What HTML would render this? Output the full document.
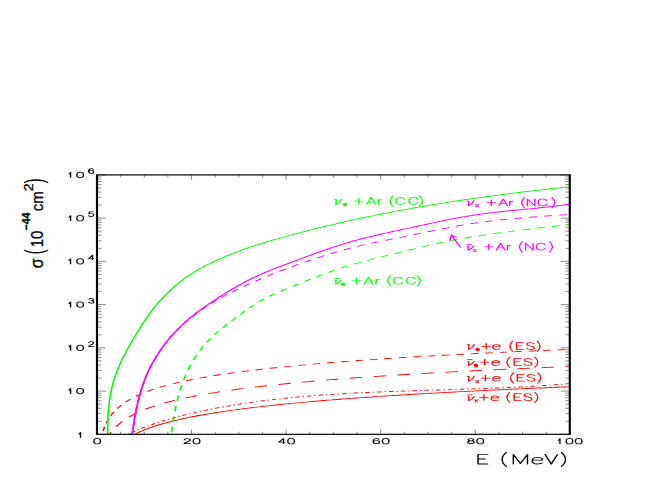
<!DOCTYPE html>
<html><head><meta charset="utf-8"><title>Neutrino cross sections</title>
<style>html,body{margin:0;padding:0;background:#fff}svg{display:block}text{font-family:"Liberation Sans",sans-serif}</style>
</head><body>
<svg width="654" height="491" viewBox="0 0 654 491" role="img" aria-label="Neutrino cross sections on argon and electrons versus energy">
<title>Neutrino cross sections: sigma (10^-44 cm^2) versus E (MeV)</title>
<desc>Curves: nu_e + Ar (CC), anti-nu_e + Ar (CC), nu_x + Ar (NC), anti-nu_x + Ar (NC), nu_e + e (ES), anti-nu_e + e (ES), nu_x + e (ES), anti-nu_x + e (ES). X axis E (MeV) from 0 to 100; Y axis sigma (10^-44 cm^2) from 1 to 10^6, log scale.</desc>
<rect width="654" height="491" fill="#fff"/>
<defs><clipPath id="c"><rect x="97.0" y="318.8" width="472.8" height="472.8"/></clipPath></defs>
<g transform="scale(1,0.54865)">
<path d="M97.00,791.6v-8.9M97.00,318.8v8.9M120.64,791.6v-4.7M120.64,318.8v4.7M144.28,791.6v-4.7M144.28,318.8v4.7M167.92,791.6v-4.7M167.92,318.8v4.7M191.56,791.6v-8.9M191.56,318.8v8.9M215.20,791.6v-4.7M215.20,318.8v4.7M238.84,791.6v-4.7M238.84,318.8v4.7M262.48,791.6v-4.7M262.48,318.8v4.7M286.12,791.6v-8.9M286.12,318.8v8.9M309.76,791.6v-4.7M309.76,318.8v4.7M333.40,791.6v-4.7M333.40,318.8v4.7M357.04,791.6v-4.7M357.04,318.8v4.7M380.68,791.6v-8.9M380.68,318.8v8.9M404.32,791.6v-4.7M404.32,318.8v4.7M427.96,791.6v-4.7M427.96,318.8v4.7M451.60,791.6v-4.7M451.60,318.8v4.7M475.24,791.6v-8.9M475.24,318.8v8.9M498.88,791.6v-4.7M498.88,318.8v4.7M522.52,791.6v-4.7M522.52,318.8v4.7M546.16,791.6v-4.7M546.16,318.8v4.7M569.80,791.6v-8.9M569.80,318.8v8.9M97.0,791.58h8.9M569.8,791.58h-8.9M97.0,767.86h4.4M569.8,767.86h-4.4M97.0,753.99h4.4M569.8,753.99h-4.4M97.0,744.14h4.4M569.8,744.14h-4.4M97.0,736.51h4.4M569.8,736.51h-4.4M97.0,730.27h4.4M569.8,730.27h-4.4M97.0,724.99h4.4M569.8,724.99h-4.4M97.0,720.42h4.4M569.8,720.42h-4.4M97.0,716.39h4.4M569.8,716.39h-4.4M97.0,712.78h8.9M569.8,712.78h-8.9M97.0,689.06h4.4M569.8,689.06h-4.4M97.0,675.19h4.4M569.8,675.19h-4.4M97.0,665.34h4.4M569.8,665.34h-4.4M97.0,657.71h4.4M569.8,657.71h-4.4M97.0,651.47h4.4M569.8,651.47h-4.4M97.0,646.19h4.4M569.8,646.19h-4.4M97.0,641.62h4.4M569.8,641.62h-4.4M97.0,637.59h4.4M569.8,637.59h-4.4M97.0,633.98h8.9M569.8,633.98h-8.9M97.0,610.26h4.4M569.8,610.26h-4.4M97.0,596.39h4.4M569.8,596.39h-4.4M97.0,586.54h4.4M569.8,586.54h-4.4M97.0,578.91h4.4M569.8,578.91h-4.4M97.0,572.67h4.4M569.8,572.67h-4.4M97.0,567.39h4.4M569.8,567.39h-4.4M97.0,562.82h4.4M569.8,562.82h-4.4M97.0,558.79h4.4M569.8,558.79h-4.4M97.0,555.18h8.9M569.8,555.18h-8.9M97.0,531.46h4.4M569.8,531.46h-4.4M97.0,517.59h4.4M569.8,517.59h-4.4M97.0,507.74h4.4M569.8,507.74h-4.4M97.0,500.11h4.4M569.8,500.11h-4.4M97.0,493.87h4.4M569.8,493.87h-4.4M97.0,488.59h4.4M569.8,488.59h-4.4M97.0,484.02h4.4M569.8,484.02h-4.4M97.0,479.99h4.4M569.8,479.99h-4.4M97.0,476.38h8.9M569.8,476.38h-8.9M97.0,452.66h4.4M569.8,452.66h-4.4M97.0,438.79h4.4M569.8,438.79h-4.4M97.0,428.94h4.4M569.8,428.94h-4.4M97.0,421.31h4.4M569.8,421.31h-4.4M97.0,415.07h4.4M569.8,415.07h-4.4M97.0,409.79h4.4M569.8,409.79h-4.4M97.0,405.22h4.4M569.8,405.22h-4.4M97.0,401.19h4.4M569.8,401.19h-4.4M97.0,397.58h8.9M569.8,397.58h-8.9M97.0,373.86h4.4M569.8,373.86h-4.4M97.0,359.99h4.4M569.8,359.99h-4.4M97.0,350.14h4.4M569.8,350.14h-4.4M97.0,342.51h4.4M569.8,342.51h-4.4M97.0,336.27h4.4M569.8,336.27h-4.4M97.0,330.99h4.4M569.8,330.99h-4.4M97.0,326.42h4.4M569.8,326.42h-4.4M97.0,322.39h4.4M569.8,322.39h-4.4M97.0,318.78h8.9M569.8,318.78h-8.9" stroke="#000" stroke-width="0.6" fill="none"/>
<g clip-path="url(#c)" fill="none" stroke-linejoin="round">
<path d="M103.1,785.6 L103.2,785.1 L103.7,782.3 L104.3,779.7 L104.6,778.2 M106.3,771.5 L106.4,770.9 L106.9,769.0 L107.5,767.2 L108.0,765.5 L108.4,764.2 M110.8,757.7 L111.2,756.8 L111.7,755.5 L112.3,754.3 L112.8,753.1 L113.3,752.0 L113.9,750.9 L113.9,750.8 M117.2,744.7 L117.6,744.1 L118.1,743.2 L118.7,742.3 L119.2,741.5 L119.7,740.7 L120.3,739.9 L120.8,739.1 L121.3,738.4 L121.4,738.3 M125.6,732.9 L125.6,732.8 L126.1,732.2 L126.7,731.6 L127.2,731.0 L127.7,730.4 L128.3,729.8 L128.8,729.2 L129.3,728.6 L129.9,728.1 L130.4,727.5 L130.7,727.3 M135.7,722.5 L135.7,722.5 L136.3,722.0 L136.8,721.5 L137.3,721.1 L137.9,720.6 L138.4,720.2 L138.9,719.7 L139.5,719.3 L140.0,718.9 L140.5,718.5 L141.1,718.0 L141.5,717.7 M147.1,713.6 L149.6,712.0 L152.3,710.3 L153.5,709.5 M159.5,706.1 L160.3,705.6 L163.0,704.2 L165.7,702.9 L166.2,702.6 M172.5,699.6 L173.7,699.1 L176.4,697.9 L179.1,696.8 L179.5,696.6 M185.9,694.0 L187.1,693.6 L189.8,692.6 L192.5,691.6 L193.0,691.4 M199.5,689.2 L200.5,688.8 L203.2,688.0 L205.8,687.1 L206.7,686.8 M213.3,684.8 L213.9,684.7 L216.5,683.9 L219.2,683.1 L220.7,682.7 M227.3,680.9 L229.9,680.3 L232.6,679.6 L234.7,679.1 M241.4,677.4 L243.3,677.0 L246.0,676.4 L248.7,675.8 L248.8,675.7 M255.5,674.2 L256.7,674.0 L259.4,673.4 L262.0,672.9 L263.0,672.7 M269.7,671.3 L270.1,671.2 L272.7,670.7 L275.4,670.2 L277.2,669.9 M284.0,668.6 L286.1,668.2 L288.8,667.7 L291.5,667.2 M298.3,666.1 L299.5,665.9 L302.2,665.4 L304.9,665.0 L305.8,664.8 M312.6,663.7 L312.9,663.7 L315.6,663.2 L318.2,662.8 L320.1,662.5 M326.9,661.5 L328.9,661.2 L331.6,660.8 L334.3,660.4 L334.4,660.4 M341.2,659.4 L342.3,659.3 L345.0,658.9 L347.7,658.6 L348.8,658.4 M355.6,657.5 L355.7,657.5 L358.4,657.1 L361.1,656.8 L363.1,656.5 M370.0,655.6 L371.8,655.4 L374.4,655.1 L377.1,654.8 L377.5,654.7 M384.4,653.9 L385.1,653.8 L387.8,653.5 L390.5,653.2 L391.9,653.0 M398.8,652.2 L401.2,651.9 L403.9,651.6 L406.3,651.4 M413.2,650.6 L414.6,650.5 L417.3,650.2 L419.9,649.9 L420.8,649.8 M427.6,649.1 L428.0,649.0 L430.6,648.8 L433.3,648.5 L435.2,648.3 M442.0,647.6 L444.0,647.4 L446.7,647.2 L449.4,646.9 L449.6,646.9 M456.5,646.2 L457.4,646.1 L460.1,645.9 L462.8,645.6 L464.0,645.5 M470.9,644.9 L473.5,644.6 L476.1,644.4 L478.5,644.2 M485.4,643.6 L486.8,643.4 L489.5,643.2 L492.2,643.0 L492.9,642.9 M499.8,642.3 L500.2,642.3 L502.9,642.1 L505.6,641.8 L507.4,641.7 M514.3,641.1 L516.3,640.9 L519.0,640.7 L521.6,640.5 L521.8,640.5 M528.7,639.9 L529.7,639.9 L532.3,639.7 L535.0,639.5 L536.3,639.4 M543.2,638.8 L545.7,638.6 L548.4,638.4 L550.7,638.2 M557.6,637.7 L559.1,637.6 L561.8,637.4 L564.4,637.2 L565.2,637.2" stroke="#f00" stroke-width="1.60"/>
<path d="M109.8,791.6 L110.2,790.4 L110.7,789.3 L111.1,788.2 L111.2,788.0 M116.0,778.0 L116.3,777.4 L116.8,776.7 L117.2,775.9 L117.6,775.2 L118.1,774.5 L118.5,773.8 L118.9,773.1 L119.4,772.4 L119.8,771.7 L120.3,771.1 L120.7,770.4 L121.1,769.8 L121.6,769.2 L122.0,768.6 L122.2,768.3 M128.9,760.3 L129.0,760.2 L129.4,759.7 L129.9,759.3 L130.3,758.8 L130.7,758.4 L131.2,757.9 L131.6,757.5 L132.1,757.1 L132.5,756.6 L132.9,756.2 L133.4,755.8 L133.8,755.4 L134.2,755.0 L134.7,754.6 L135.1,754.2 L135.5,753.8 L136.0,753.4 L136.4,753.0 L136.9,752.7 L137.0,752.5 M145.3,746.1 L147.0,744.9 L149.6,743.1 L152.3,741.4 L154.8,740.0 M164.3,734.8 L165.7,734.0 L168.4,732.7 L171.0,731.5 L173.7,730.2 L175.1,729.7 M185.5,725.4 L187.1,724.7 L189.8,723.7 L192.5,722.8 L195.1,721.8 L197.1,721.1 M208.1,717.6 L208.5,717.4 L211.2,716.6 L213.9,715.8 L216.5,715.1 L219.2,714.3 L220.1,714.1 M231.3,711.1 L232.6,710.8 L235.3,710.1 L237.9,709.4 L240.6,708.8 L243.3,708.2 L243.4,708.1 M254.8,705.6 L256.7,705.2 L259.4,704.6 L262.0,704.0 L264.7,703.5 L267.0,703.0 M278.4,700.8 L280.8,700.4 L283.4,699.9 L286.1,699.4 L288.8,698.9 L290.7,698.6 M302.1,696.6 L302.2,696.6 L304.9,696.1 L307.5,695.7 L310.2,695.3 L312.9,694.8 L314.5,694.6 M325.9,692.8 L326.3,692.8 L328.9,692.4 L331.6,692.0 L334.3,691.6 L337.0,691.2 L338.3,691.0 M349.8,689.4 L350.3,689.4 L353.0,689.0 L355.7,688.6 L358.4,688.3 L361.1,687.9 L362.2,687.8 M373.7,686.3 L374.4,686.3 L377.1,685.9 L379.8,685.6 L382.5,685.3 L385.1,685.0 L386.1,684.8 M397.6,683.5 L398.5,683.4 L401.2,683.1 L403.9,682.8 L406.6,682.5 L409.2,682.2 L410.0,682.1 M421.6,680.9 L422.6,680.8 L425.3,680.5 L428.0,680.2 L430.6,679.9 L433.3,679.7 L434.0,679.6 M445.5,678.4 L446.7,678.3 L449.4,678.1 L452.0,677.8 L454.7,677.6 L457.4,677.3 L458.0,677.2 M469.5,676.2 L470.8,676.1 L473.5,675.8 L476.1,675.6 L478.8,675.3 L481.5,675.1 L482.0,675.0 M493.5,674.0 L494.9,673.9 L497.5,673.7 L500.2,673.5 L502.9,673.2 L505.6,673.0 L506.0,673.0 M517.6,672.0 L519.0,671.9 L521.6,671.7 L524.3,671.5 L527.0,671.3 L529.7,671.0 L530.0,671.0 M541.6,670.1 L543.0,670.0 L545.7,669.8 L548.4,669.6 L551.1,669.4 L553.7,669.2 L554.0,669.2 M565.6,668.3 L567.1,668.2 L569.8,668.0" stroke="#f00" stroke-width="1.60"/>
<path d="M128.6,790.6 L129.2,790.2 L129.7,789.8 M132.0,787.9 L132.5,787.5 L133.3,786.9 L134.2,786.2 L135.0,785.6 L135.5,785.2 M137.9,783.4 L138.4,783.0 L139.0,782.6 M141.5,780.8 L141.7,780.6 L142.6,780.0 L143.4,779.4 L144.3,778.8 L145.1,778.3 M147.6,776.6 L147.6,776.6 L148.5,776.0 L148.7,775.8 M151.3,774.2 L151.9,773.8 L152.7,773.3 L153.6,772.8 L154.4,772.2 L155.0,771.9 M157.6,770.3 L157.8,770.2 L158.7,769.7 L158.8,769.6 M161.4,768.1 L162.1,767.7 L162.9,767.2 L163.8,766.8 L164.6,766.3 L165.2,766.0 M167.9,764.6 L168.1,764.4 L168.9,764.0 L169.1,763.9 M171.8,762.5 L172.3,762.2 L173.2,761.8 L174.0,761.4 L174.9,760.9 L175.7,760.6 M178.4,759.2 L179.2,758.9 L179.7,758.6 M182.4,757.4 L182.6,757.3 L183.5,756.9 L184.4,756.5 L185.2,756.1 L186.1,755.7 L186.4,755.6 M189.1,754.4 L189.5,754.2 L190.4,753.8 L190.4,753.8 M193.2,752.7 L193.9,752.4 L194.7,752.0 L195.6,751.7 L196.5,751.3 L197.3,751.0 M200.0,749.9 L200.8,749.6 L201.3,749.4 M204.1,748.3 L204.3,748.2 L205.1,747.9 L206.0,747.6 L206.9,747.3 L207.8,746.9 L208.3,746.8 M211.1,745.7 L211.2,745.7 L212.1,745.4 L212.4,745.3 M215.2,744.3 L215.6,744.1 L216.5,743.8 L217.4,743.5 L218.2,743.2 L219.1,742.9 L219.4,742.8 M222.2,741.9 L222.6,741.8 L223.5,741.5 L223.6,741.4 M226.4,740.5 L227.0,740.3 L227.9,740.1 L228.8,739.8 L229.6,739.5 L230.5,739.3 L230.6,739.2 M233.5,738.3 L234.0,738.2 L234.8,737.9 M237.7,737.1 L238.4,736.9 L239.3,736.6 L240.2,736.4 L241.1,736.1 L242.0,735.9 L242.0,735.9 M244.8,735.1 L245.5,734.9 L246.2,734.7 M249.1,734.0 L249.9,733.8 L250.8,733.5 L251.7,733.3 L252.6,733.1 L253.4,732.9 M256.3,732.1 L257.0,732.0 L257.6,731.8 M260.5,731.1 L261.4,730.9 L262.3,730.7 L263.2,730.5 L264.1,730.3 L264.8,730.1 M267.8,729.5 L268.5,729.3 L269.1,729.2 M272.1,728.5 L272.1,728.5 L273.0,728.3 L273.9,728.1 L274.8,728.0 L275.6,727.8 L276.4,727.6 M279.3,727.0 L280.1,726.9 L280.7,726.8 M283.6,726.2 L283.7,726.2 L284.6,726.0 L285.5,725.8 L286.4,725.7 L287.2,725.5 L288.0,725.4 M290.9,724.8 L291.7,724.7 L292.3,724.6 M295.2,724.1 L295.3,724.1 L296.2,723.9 L297.1,723.8 L298.0,723.6 L298.9,723.5 L299.6,723.4 M302.5,722.9 L303.4,722.8 L303.9,722.7 M306.9,722.2 L306.9,722.2 L307.8,722.1 L308.7,721.9 L309.6,721.8 L310.5,721.7 L311.2,721.6 M314.2,721.1 L315.0,721.0 L315.6,720.9 M318.6,720.5 L318.6,720.5 L319.5,720.4 L320.4,720.3 L321.3,720.2 L322.2,720.0 L322.9,720.0 M325.9,719.6 L326.7,719.5 L327.3,719.4 M330.3,719.0 L330.3,719.0 L331.2,718.9 L332.1,718.8 L333.0,718.7 L333.9,718.6 L334.6,718.5 M337.6,718.2 L338.4,718.1 L339.0,718.0 M342.0,717.7 L342.0,717.7 L342.9,717.6 L343.8,717.5 L344.7,717.4 L345.6,717.3 L346.4,717.2 M349.4,716.9 L350.1,716.9 L350.8,716.8 M353.7,716.5 L353.8,716.5 L354.7,716.4 L355.6,716.4 L356.5,716.3 L357.4,716.2 L358.1,716.1 M361.1,715.9 L361.9,715.8 L362.5,715.7 M365.5,715.5 L365.5,715.5 L366.4,715.4 L367.3,715.3 L368.2,715.2 L369.1,715.2 L369.9,715.1 M372.9,714.9 L373.6,714.8 L374.3,714.8 M377.3,714.5 L378.1,714.5 L379.0,714.4 L380.0,714.3 L380.9,714.3 L381.6,714.2 M384.6,714.0 L385.4,713.9 L386.0,713.9 M389.0,713.7 L389.9,713.6 L390.8,713.6 L391.7,713.5 L392.6,713.5 L393.4,713.4 M396.4,713.2 L397.1,713.2 L397.8,713.1 M400.8,712.9 L401.7,712.9 L402.6,712.8 L403.5,712.8 L404.4,712.7 L405.2,712.7 M408.2,712.5 L408.9,712.4 L409.6,712.4 M412.6,712.2 L413.4,712.2 L414.3,712.1 L415.2,712.1 L416.1,712.0 L417.0,712.0 M420.0,711.8 L420.6,711.8 L421.4,711.7 M424.4,711.5 L425.2,711.5 L426.1,711.5 L427.0,711.4 L427.9,711.4 L428.8,711.3 M431.7,711.1 L432.4,711.1 L433.1,711.1 M436.1,710.9 L436.9,710.9 L437.8,710.8 L438.7,710.8 L439.6,710.7 L440.5,710.7 L440.5,710.7 M443.5,710.5 L444.1,710.5 L444.9,710.4 M447.9,710.3 L448.6,710.2 L449.5,710.2 L450.4,710.1 L451.3,710.1 L452.2,710.0 L452.3,710.0 M455.3,709.8 L455.8,709.8 L456.7,709.8 M459.7,709.6 L460.3,709.6 L461.2,709.5 L462.1,709.5 L463.0,709.4 L463.9,709.3 L464.1,709.3 M467.1,709.2 L467.5,709.1 L468.4,709.1 L468.5,709.1 M471.5,708.9 L472.0,708.9 L472.9,708.8 L473.8,708.8 L474.7,708.7 L475.6,708.6 L475.9,708.6 M478.9,708.4 L479.2,708.4 L480.1,708.4 L480.3,708.3 M483.3,708.2 L483.7,708.1 L484.6,708.1 L485.5,708.0 L486.4,707.9 L487.3,707.9 L487.7,707.9 M490.6,707.7 L490.9,707.6 L491.8,707.6 L492.0,707.6 M495.0,707.3 L495.4,707.3 L496.2,707.2 L497.1,707.2 L498.0,707.1 L498.9,707.0 L499.4,707.0 M502.4,706.8 L502.5,706.8 L503.4,706.7 L503.8,706.7 M506.8,706.4 L507.0,706.4 L507.9,706.3 L508.8,706.3 L509.7,706.2 L510.5,706.1 L511.2,706.1 M514.2,705.8 L515.0,705.7 L515.6,705.7 M518.6,705.4 L518.6,705.4 L519.5,705.3 L520.3,705.2 L521.2,705.2 L522.1,705.1 L522.9,705.0 M525.9,704.7 L526.6,704.6 L527.3,704.6 M530.3,704.3 L531.0,704.2 L531.9,704.1 L532.8,704.0 L533.7,703.9 L534.6,703.8 L534.7,703.8 M537.7,703.5 L538.1,703.4 L539.0,703.3 L539.0,703.3 M542.0,703.0 L542.5,702.9 L543.4,702.8 L544.3,702.7 L545.2,702.6 L546.1,702.5 L546.4,702.4 M549.4,702.1 L549.6,702.0 L550.5,701.9 L550.8,701.9 M553.7,701.5 L554.0,701.5 L554.9,701.3 L555.8,701.2 L556.6,701.1 L557.5,701.0 L558.1,700.9 M561.1,700.5 L561.9,700.4 L562.4,700.3 M565.4,699.8 L566.3,699.7 L567.2,699.6 L568.0,699.4 L568.9,699.3 L569.8,699.2" stroke="#f00" stroke-width="1.60"/>
<path d="M134.5,791.6 L134.6,791.5 L134.8,791.4 L134.9,791.2 L135.0,791.1 L135.1,791.0 L135.3,790.9 L135.4,790.8 L135.5,790.7 L135.6,790.6 L135.8,790.5 L135.9,790.4 L136.0,790.3 L136.1,790.2 L136.3,790.0 L136.4,789.9 L136.5,789.8 L136.6,789.7 L136.7,789.6 L136.9,789.5 L137.0,789.4 L137.1,789.3 L137.2,789.2 L137.4,789.1 L137.5,789.0 L137.6,788.9 L137.7,788.8 L137.9,788.7 L138.0,788.6 L138.1,788.5 L138.2,788.4 L138.4,788.3 L138.5,788.2 L138.6,788.1 L138.7,788.0 L138.8,787.9 L139.0,787.8 L139.1,787.7 L139.2,787.6 L139.3,787.5 L139.5,787.4 L139.6,787.3 L139.7,787.2 L139.8,787.1 L140.0,787.0 L140.1,786.9 L140.2,786.8 L140.3,786.7 L140.5,786.6 L140.6,786.5 L140.7,786.4 L140.8,786.3 L140.9,786.2 L141.1,786.1 L141.2,786.0 L141.3,785.9 L141.4,785.8 L141.6,785.7 L141.7,785.6 L141.8,785.5 L141.9,785.4 L142.1,785.3 L142.2,785.2 L142.3,785.1 L142.4,785.0 L142.6,785.0 L142.7,784.9 L142.8,784.8 L142.9,784.7 L143.0,784.6 L143.2,784.5 L143.3,784.4 L143.4,784.3 L143.5,784.2 L143.7,784.1 L143.8,784.0 L143.9,783.9 L144.0,783.9 L144.2,783.8 L144.3,783.7 L147.0,781.8 L149.6,780.0 L152.3,778.3 L155.0,776.7 L157.7,775.1 L160.3,773.7 L163.0,772.3 L165.7,770.9 L168.4,769.6 L171.0,768.3 L173.7,767.1 L176.4,765.9 L179.1,764.8 L181.7,763.7 L184.4,762.6 L187.1,761.6 L189.8,760.6 L192.5,759.6 L195.1,758.7 L197.8,757.8 L200.5,756.9 L203.2,756.0 L205.8,755.1 L208.5,754.3 L211.2,753.5 L213.9,752.7 L216.5,751.9 L219.2,751.2 L221.9,750.4 L224.6,749.7 L227.2,749.0 L229.9,748.3 L232.6,747.6 L235.3,747.0 L237.9,746.3 L240.6,745.7 L243.3,745.0 L246.0,744.4 L248.7,743.8 L251.3,743.2 L254.0,742.6 L256.7,742.0 L259.4,741.5 L262.0,740.9 L264.7,740.3 L267.4,739.8 L270.1,739.3 L272.7,738.7 L275.4,738.2 L278.1,737.7 L280.8,737.2 L283.4,736.7 L286.1,736.2 L288.8,735.8 L291.5,735.3 L294.1,734.8 L296.8,734.3 L299.5,733.9 L302.2,733.4 L304.9,733.0 L307.5,732.6 L310.2,732.1 L312.9,731.7 L315.6,731.3 L318.2,730.9 L320.9,730.5 L323.6,730.0 L326.3,729.6 L328.9,729.2 L331.6,728.9 L334.3,728.5 L337.0,728.1 L339.6,727.7 L342.3,727.3 L345.0,727.0 L347.7,726.6 L350.3,726.2 L353.0,725.9 L355.7,725.5 L358.4,725.2 L361.1,724.8 L363.7,724.5 L366.4,724.1 L369.1,723.8 L371.8,723.5 L374.4,723.1 L377.1,722.8 L379.8,722.5 L382.5,722.1 L385.1,721.8 L387.8,721.5 L390.5,721.2 L393.2,720.9 L395.8,720.6 L398.5,720.3 L401.2,720.0 L403.9,719.7 L406.6,719.4 L409.2,719.1 L411.9,718.8 L414.6,718.5 L417.3,718.2 L419.9,717.9 L422.6,717.6 L425.3,717.4 L428.0,717.1 L430.6,716.8 L433.3,716.5 L436.0,716.3 L438.7,716.0 L441.3,715.7 L444.0,715.5 L446.7,715.2 L449.4,714.9 L452.0,714.7 L454.7,714.4 L457.4,714.2 L460.1,713.9 L462.8,713.7 L465.4,713.4 L468.1,713.2 L470.8,712.9 L473.5,712.7 L476.1,712.4 L478.8,712.2 L481.5,712.0 L484.2,711.7 L486.8,711.5 L489.5,711.2 L492.2,711.0 L494.9,710.8 L497.5,710.6 L500.2,710.3 L502.9,710.1 L505.6,709.9 L508.2,709.6 L510.9,709.4 L513.6,709.2 L516.3,709.0 L519.0,708.8 L521.6,708.6 L524.3,708.3 L527.0,708.1 L529.7,707.9 L532.3,707.7 L535.0,707.5 L537.7,707.3 L540.4,707.1 L543.0,706.9 L545.7,706.7 L548.4,706.5 L551.1,706.3 L553.7,706.1 L556.4,705.9 L559.1,705.7 L561.8,705.5 L564.4,705.3 L567.1,705.1 L569.8,704.9" stroke="#f00" stroke-width="1.60"/>
<path d="M171.6,788.1 L171.6,788.0 L171.7,786.3 L171.8,784.5 L172.0,782.7 L172.1,781.0 L172.2,779.2 L172.3,778.1 M173.1,768.9 L173.1,768.6 L173.3,766.9 L173.4,765.1 L173.6,763.3 L173.8,761.6 L173.9,759.8 L174.0,758.9 M174.9,749.8 L175.0,749.3 L175.2,747.5 L175.3,745.8 L175.5,744.0 L175.7,742.3 L175.9,740.6 L176.0,739.7 M177.2,730.7 L177.3,730.1 L177.5,728.4 L177.7,726.7 L178.0,724.9 L178.2,723.2 L178.5,721.5 L178.6,720.7 M180.0,711.7 L180.1,711.2 L180.4,709.4 L180.7,707.7 L181.0,706.0 L181.4,704.3 L181.7,702.6 L181.8,701.8 M183.6,692.9 L183.7,692.5 L184.1,690.9 L184.4,689.2 L184.8,687.5 L185.2,685.9 L185.6,684.2 L185.8,683.1 M188.0,674.4 L188.5,672.8 L188.9,671.2 L189.3,669.6 L189.8,668.1 L190.2,666.5 L190.7,664.9 L190.7,664.8 M193.4,656.2 L193.6,655.6 L194.1,654.1 L194.6,652.6 L195.2,651.1 L195.7,649.6 L196.2,648.1 L196.6,647.1 M199.7,639.2 L200.2,637.9 L200.8,636.5 L201.4,635.1 L202.0,633.8 L202.6,632.4 L203.2,631.0 L203.2,630.9 M206.6,623.9 L207.1,623.1 L207.7,621.8 L208.4,620.5 L209.1,619.2 L209.8,618.0 L210.5,616.7 L210.6,616.6 M214.3,610.2 L214.8,609.5 L215.5,608.3 L216.2,607.2 L217.0,606.0 L217.7,604.9 L218.5,603.7 L218.6,603.5 M222.7,597.5 L223.0,597.0 L223.8,595.9 L224.6,594.8 L225.4,593.7 L226.1,592.6 L226.9,591.5 L227.2,591.0 M231.4,585.3 L231.6,585.1 L232.4,584.0 L233.2,582.9 L233.9,581.9 L234.7,580.8 L235.5,579.7 L236.1,578.9 M240.3,573.2 L241.1,572.3 L241.8,571.2 L242.6,570.1 L243.4,569.1 L244.2,568.0 L245.0,567.0 L245.1,567.0 M249.4,561.4 L249.9,560.8 L250.7,559.8 L251.5,558.7 L252.3,557.8 L253.1,556.8 L254.0,555.8 L254.3,555.4 M258.9,550.2 L258.9,550.1 L259.8,549.2 L260.6,548.3 L261.5,547.4 L262.3,546.6 L263.2,545.7 L264.0,544.9 L264.2,544.7 M269.3,540.1 L270.1,539.3 L271.0,538.5 L271.9,537.8 L272.8,537.1 L273.7,536.3 L274.6,535.6 L275.1,535.1 M280.6,530.8 L280.8,530.7 L281.7,530.0 L282.6,529.3 L283.5,528.6 L284.4,527.9 L285.3,527.2 L286.2,526.6 L286.8,526.2 M292.4,522.0 L292.6,521.8 L293.5,521.1 L294.4,520.5 L295.3,519.8 L296.2,519.1 L297.1,518.4 L298.0,517.8 L298.6,517.4 M304.2,513.2 L304.4,513.1 L305.3,512.4 L306.2,511.8 L307.2,511.1 L308.1,510.5 L309.0,509.8 L309.9,509.2 L310.5,508.7 M316.2,504.7 L316.3,504.6 L317.3,504.0 L318.2,503.4 L319.1,502.7 L320.0,502.1 L320.9,501.5 L321.9,500.9 L322.6,500.3 M328.5,496.5 L329.3,496.0 L330.2,495.4 L331.1,494.8 L332.0,494.2 L333.0,493.6 L333.9,493.0 L334.8,492.5 L335.1,492.3 M341.1,488.6 L341.3,488.5 L342.3,487.9 L343.2,487.4 L344.1,486.9 L345.1,486.3 L346.0,485.8 L346.9,485.3 L347.8,484.7 M354.1,481.4 L354.4,481.2 L355.3,480.7 L356.3,480.2 L357.2,479.7 L358.1,479.2 L359.1,478.8 L360.0,478.3 L361.0,477.8 L361.0,477.8 M367.4,474.7 L367.5,474.6 L368.5,474.2 L369.4,473.7 L370.4,473.3 L371.3,472.9 L372.3,472.4 L373.2,472.0 L374.1,471.6 L374.5,471.4 M381.0,468.4 L381.7,468.1 L382.6,467.7 L383.6,467.3 L384.5,466.9 L385.5,466.4 L386.4,466.0 L387.4,465.6 L388.2,465.2 M394.7,462.3 L395.0,462.2 L395.9,461.8 L396.9,461.3 L397.8,460.9 L398.8,460.5 L399.7,460.1 L400.7,459.6 L401.6,459.2 L401.9,459.1 M408.4,456.1 L409.3,455.7 L410.2,455.3 L411.2,454.9 L412.1,454.4 L413.1,454.0 L414.0,453.6 L415.0,453.2 L415.5,452.9 M422.1,450.0 L422.6,449.8 L423.6,449.4 L424.6,449.0 L425.5,448.6 L426.5,448.2 L427.4,447.8 L428.4,447.4 L429.3,447.0 M436.0,444.3 L436.1,444.3 L437.0,443.9 L438.0,443.5 L439.0,443.2 L439.9,442.8 L440.9,442.4 L441.8,442.1 L442.8,441.7 L443.3,441.5 M450.1,439.1 L450.5,438.9 L451.5,438.6 L452.4,438.2 L453.4,437.9 L454.4,437.6 L455.3,437.2 L456.3,436.9 L457.3,436.6 L457.5,436.5 M464.3,434.3 L465.0,434.0 L465.9,433.7 L466.9,433.4 L467.9,433.1 L468.8,432.8 L469.8,432.5 L470.8,432.2 L471.7,431.9 L471.9,431.9 M478.7,429.9 L479.5,429.7 L480.5,429.4 L481.4,429.1 L482.4,428.9 L483.4,428.6 L484.3,428.3 L485.3,428.1 L486.3,427.8 L486.3,427.8 M493.3,426.0 L494.0,425.8 L495.0,425.5 L496.0,425.3 L496.9,425.0 L497.9,424.8 L498.9,424.6 L499.8,424.3 L500.8,424.1 L500.9,424.1 M507.9,422.4 L508.6,422.3 L509.6,422.1 L510.5,421.8 L511.5,421.6 L512.5,421.4 L513.4,421.2 L514.4,421.0 L515.4,420.8 L515.6,420.7 M522.6,419.2 L523.2,419.1 L524.1,418.9 L525.1,418.7 L526.1,418.5 L527.0,418.3 L528.0,418.1 L529.0,417.9 L530.0,417.7 L530.3,417.6 M537.3,416.1 L537.7,416.0 L538.7,415.8 L539.7,415.6 L540.6,415.4 L541.6,415.2 L542.6,415.0 L543.6,414.8 L544.5,414.5 L545.0,414.4 M552.0,412.9 L552.3,412.8 L553.3,412.6 L554.3,412.4 L555.2,412.2 L556.2,411.9 L557.2,411.7 L558.1,411.5 L559.1,411.3 L559.7,411.1 M566.7,409.4 L566.9,409.4 L567.9,409.1 L568.8,408.9 L569.8,408.6" stroke="#0f0" stroke-width="1.60"/>
<path d="M132.2,791.5 L132.3,789.7 L132.5,787.8 L132.6,785.9 L132.8,783.9 L132.8,783.6 M133.4,776.5 L133.4,776.3 L133.6,774.3 L133.8,772.4 L133.9,770.5 L134.1,768.6 M134.7,761.5 L134.8,760.9 L135.0,758.9 L135.2,757.0 L135.4,755.1 L135.5,753.7 M136.3,746.6 L136.4,745.4 L136.6,743.5 L136.9,741.6 L137.1,739.7 L137.2,738.7 M138.1,731.6 L138.3,730.1 L138.6,728.2 L138.9,726.3 L139.1,724.4 L139.2,723.8 M140.3,716.7 L140.6,714.9 L140.9,713.0 L141.2,711.1 L141.5,709.2 L141.6,708.9 M142.8,701.9 L142.9,701.8 L143.2,699.9 L143.6,698.1 L144.0,696.2 L144.3,694.4 L144.4,694.1 M145.9,687.2 L145.9,687.1 L146.3,685.3 L146.7,683.5 L147.2,681.7 L147.6,679.9 L147.7,679.5 M149.5,672.5 L149.9,671.0 L150.3,670.1 L150.7,668.4 L151.2,666.7 L151.7,665.0 M153.8,658.1 L153.8,658.1 L154.3,656.4 L154.9,654.7 L155.4,653.0 L156.0,651.3 L156.2,650.6 M158.6,643.9 L158.8,643.1 L159.4,641.5 L160.0,639.9 L160.6,638.3 L161.2,636.7 L161.3,636.5 M163.9,629.8 L164.4,628.8 L165.0,627.3 L165.7,625.7 L166.3,624.2 L167.0,622.7 L167.0,622.5 M170.0,616.0 L170.4,615.2 L171.1,613.8 L171.8,612.3 L172.5,610.8 L173.2,609.4 L173.4,608.9 M176.7,602.6 L176.8,602.4 L177.6,601.0 L178.3,599.6 L179.1,598.3 L179.8,596.9 L180.6,595.7 M184.2,589.5 L184.5,589.0 L185.3,587.7 L186.1,586.5 L186.9,585.2 L187.7,584.0 L188.4,582.8 M192.4,576.9 L192.6,576.7 L193.5,575.5 L194.3,574.3 L195.2,573.1 L196.0,572.0 L196.8,570.8 L197.1,570.5 M201.4,564.8 L202.0,564.0 L202.9,562.9 L203.8,561.9 L204.7,560.8 L205.6,559.7 L206.4,558.7 M211.1,553.3 L211.8,552.4 L212.8,551.4 L213.7,550.4 L214.6,549.4 L215.5,548.4 L216.4,547.5 M221.4,542.4 L222.0,541.8 L222.9,540.8 L223.9,539.9 L224.8,539.0 L225.8,538.2 L226.7,537.3 L227.1,536.9 M232.4,532.1 L232.4,532.1 L233.4,531.2 L234.3,530.3 L235.3,529.4 L236.3,528.6 L237.2,527.7 L238.2,526.8 L238.2,526.8 M243.6,522.1 L244.0,521.8 L245.0,521.0 L245.9,520.2 L246.9,519.3 L247.9,518.5 L248.9,517.7 L249.7,517.0 M255.3,512.5 L255.7,512.2 L256.7,511.4 L257.7,510.6 L258.6,509.9 L259.6,509.1 L260.6,508.3 L261.5,507.7 M267.2,503.3 L267.5,503.1 L268.5,502.3 L269.5,501.6 L270.5,500.9 L271.5,500.2 L272.4,499.4 L273.4,498.7 L273.5,498.6 M279.4,494.5 L279.4,494.5 L280.4,493.8 L281.4,493.1 L282.4,492.4 L283.4,491.7 L284.4,491.0 L285.4,490.3 L285.9,490.0 M291.8,486.0 L292.4,485.7 L293.4,485.0 L294.4,484.3 L295.4,483.7 L296.4,483.0 L297.4,482.4 L298.4,481.7 L298.4,481.7 M304.5,477.9 L305.4,477.3 L306.4,476.7 L307.4,476.0 L308.4,475.4 L309.4,474.8 L310.4,474.2 L311.2,473.7 M317.3,470.1 L317.5,469.9 L318.5,469.3 L319.6,468.7 L320.6,468.2 L321.6,467.6 L322.6,467.0 L323.6,466.4 L324.1,466.1 M330.4,462.6 L330.7,462.3 L331.8,461.8 L332.8,461.2 L333.8,460.7 L334.8,460.1 L335.8,459.6 L336.9,459.0 L337.3,458.8 M343.6,455.5 L344.0,455.3 L345.0,454.8 L346.1,454.3 L347.1,453.8 L348.1,453.3 L349.1,452.8 L350.2,452.3 L350.7,452.0 M357.2,449.1 L357.4,449.0 L358.4,448.6 L359.4,448.1 L360.4,447.7 L361.5,447.3 L362.5,446.8 L363.5,446.4 L364.5,446.0 M371.2,443.4 L371.8,443.1 L372.8,442.7 L373.9,442.3 L374.9,442.0 L375.9,441.6 L377.0,441.2 L378.0,440.8 L378.6,440.6 M385.3,438.1 L386.3,437.8 L387.4,437.4 L388.4,437.0 L389.4,436.7 L390.5,436.3 L391.5,435.9 L392.6,435.5 L392.7,435.5 M399.4,433.0 L399.8,432.9 L400.9,432.5 L401.9,432.1 L403.0,431.7 L404.0,431.3 L405.1,430.9 L406.1,430.5 L406.8,430.3 M413.5,427.7 L414.5,427.4 L415.5,427.0 L416.6,426.6 L417.6,426.2 L418.7,425.8 L419.7,425.4 L420.8,425.0 L420.9,425.0 M427.6,422.5 L428.1,422.3 L429.1,421.9 L430.2,421.5 L431.2,421.1 L432.3,420.7 L433.3,420.3 L434.4,419.9 L435.0,419.7 M441.8,417.3 L442.8,416.9 L443.9,416.5 L444.9,416.2 L446.0,415.8 L447.0,415.4 L448.1,415.1 L449.1,414.7 L449.2,414.7 M456.0,412.4 L456.5,412.2 L457.6,411.9 L458.6,411.5 L459.7,411.2 L460.7,410.9 L461.8,410.5 L462.8,410.2 L463.5,410.0 M470.4,408.0 L471.3,407.7 L472.3,407.4 L473.4,407.1 L474.5,406.8 L475.5,406.5 L476.6,406.3 L477.6,406.0 L478.0,405.9 M484.9,404.2 L485.0,404.1 L486.1,403.9 L487.1,403.7 L488.2,403.4 L489.3,403.2 L490.3,402.9 L491.4,402.7 L492.4,402.5 L492.6,402.4 M499.6,401.0 L499.9,400.9 L500.9,400.7 L502.0,400.5 L503.0,400.3 L504.1,400.1 L505.1,399.9 L506.2,399.7 L507.3,399.6 L507.4,399.5 M514.5,398.3 L514.7,398.3 L515.7,398.1 L516.8,397.9 L517.9,397.8 L518.9,397.6 L520.0,397.4 L521.0,397.3 L522.1,397.1 L522.3,397.1 M529.3,396.0 L529.5,396.0 L530.6,395.9 L531.6,395.7 L532.7,395.6 L533.8,395.4 L534.8,395.3 L535.9,395.1 L536.9,395.0 L537.2,395.0 M544.2,394.0 L544.4,394.0 L545.4,393.9 L546.5,393.7 L547.6,393.6 L548.6,393.5 L549.7,393.3 L550.7,393.2 L551.8,393.1 L552.1,393.0 M559.2,392.1 L559.2,392.1 L560.3,392.0 L561.3,391.9 L562.4,391.7 L563.4,391.6 L564.5,391.5 L565.6,391.3 L566.6,391.2 L567.0,391.1" stroke="#f0f" stroke-width="1.60"/>
<path d="M132.2,791.6 L132.3,789.7 L132.5,787.8 L132.6,785.9 L132.8,783.9 L132.9,782.0 L133.1,780.1 L133.3,778.2 L133.4,776.3 L133.6,774.3 L133.8,772.4 L133.9,770.5 L134.1,768.6 L134.3,766.6 L134.4,764.7 L134.6,762.8 L134.8,760.9 L135.0,758.9 L135.2,757.0 L135.4,755.1 L135.6,753.1 L135.8,751.2 L136.0,749.3 L136.2,747.4 L136.4,745.4 L136.6,743.5 L136.9,741.6 L137.1,739.7 L137.3,737.7 L137.6,735.8 L137.8,733.9 L138.1,732.0 L138.3,730.1 L138.6,728.2 L138.9,726.3 L139.1,724.4 L139.4,722.5 L139.7,720.6 L140.0,718.7 L140.3,716.8 L140.6,714.9 L140.9,713.0 L141.2,711.1 L141.5,709.2 L141.8,707.4 L142.2,705.5 L142.5,703.6 L142.9,701.8 L143.2,699.9 L143.6,698.1 L144.0,696.2 L144.3,694.4 L144.7,692.6 L145.1,690.7 L145.5,688.9 L145.9,687.1 L146.3,685.3 L146.7,683.5 L147.2,681.7 L147.6,679.9 L148.0,678.1 L148.5,676.3 L148.9,674.6 L149.4,672.8 L149.9,671.0 L150.3,669.3 L150.8,667.5 L151.3,665.8 L151.8,664.1 L152.3,662.4 L152.8,660.6 L153.4,658.9 L153.9,657.2 L154.4,655.5 L155.0,653.9 L155.5,652.2 L156.1,650.5 L156.6,648.8 L157.2,647.2 L157.8,645.5 L158.3,643.9 L158.9,642.3 L159.5,640.6 L160.1,639.0 L160.7,637.4 L161.3,635.8 L162.0,634.2 L162.6,632.6 L163.2,631.1 L163.8,629.5 L164.5,627.9 L165.1,626.4 L165.8,624.8 L166.5,623.3 L167.1,621.8 L167.8,620.3 L168.5,618.7 L169.2,617.2 L169.8,615.8 L170.5,614.3 L171.2,612.8 L171.9,611.3 L172.6,609.9 L173.4,608.4 L174.1,607.0 L174.8,605.6 L175.5,604.2 L176.3,602.8 L177.0,601.4 L177.8,600.0 L178.5,598.6 L179.3,597.2 L180.0,595.9 L180.8,594.5 L181.6,593.2 L182.4,591.8 L183.1,590.5 L183.9,589.2 L184.7,587.9 L185.5,586.6 L186.3,585.3 L187.1,584.1 L187.9,582.8 L188.7,581.5 L189.6,580.3 L190.4,579.1 L191.2,577.8 L192.0,576.6 L192.9,575.4 L193.7,574.2 L194.5,573.0 L195.4,571.8 L196.2,570.6 L197.1,569.4 L197.9,568.3 L198.8,567.1 L199.6,565.9 L200.5,564.8 L201.4,563.6 L202.2,562.5 L203.1,561.4 L204.0,560.2 L204.9,559.1 L205.8,558.0 L206.6,556.9 L207.5,555.8 L208.4,554.6 L209.3,553.5 L210.2,552.5 L211.1,551.4 L212.0,550.3 L212.9,549.2 L213.8,548.1 L214.7,547.0 L215.6,546.0 L216.5,544.9 L217.4,543.8 L218.3,542.7 L219.2,541.7 L220.1,540.6 L221.1,539.6 L222.0,538.5 L222.9,537.5 L223.8,536.4 L224.7,535.4 L225.7,534.3 L226.6,533.3 L227.5,532.2 L228.4,531.2 L229.4,530.2 L230.3,529.2 L231.2,528.1 L232.2,527.1 L233.1,526.1 L234.0,525.1 L235.0,524.1 L235.9,523.1 L236.8,522.1 L237.8,521.2 L238.7,520.2 L239.7,519.2 L240.6,518.3 L241.5,517.3 L242.5,516.4 L243.4,515.4 L244.4,514.5 L245.3,513.6 L246.3,512.7 L247.3,511.8 L248.2,510.9 L249.2,510.0 L250.1,509.1 L251.1,508.2 L252.0,507.4 L253.0,506.5 L254.0,505.7 L254.9,504.9 L255.9,504.0 L256.9,503.2 L257.8,502.4 L258.8,501.6 L259.8,500.8 L260.8,500.0 L261.7,499.2 L262.7,498.5 L263.7,497.7 L264.7,496.9 L265.6,496.2 L266.6,495.4 L267.6,494.7 L268.6,494.0 L269.6,493.2 L270.5,492.5 L271.5,491.8 L272.5,491.1 L273.5,490.4 L274.5,489.7 L275.5,489.0 L276.4,488.3 L277.4,487.6 L278.4,486.9 L279.4,486.2 L280.4,485.5 L281.4,484.8 L282.4,484.2 L283.4,483.5 L284.4,482.8 L285.4,482.1 L286.4,481.5 L287.4,480.8 L288.4,480.1 L289.3,479.4 L290.3,478.8 L291.3,478.1 L292.3,477.4 L293.3,476.8 L294.3,476.1 L295.3,475.4 L296.3,474.7 L297.4,474.0 L298.4,473.4 L299.4,472.7 L300.4,472.0 L301.4,471.3 L302.4,470.6 L303.4,469.9 L304.4,469.3 L305.4,468.6 L306.4,467.9 L307.4,467.2 L308.4,466.5 L309.4,465.9 L310.5,465.2 L311.5,464.5 L312.5,463.8 L313.5,463.2 L314.5,462.5 L315.5,461.8 L316.5,461.2 L317.5,460.5 L318.6,459.8 L319.6,459.2 L320.6,458.5 L321.6,457.9 L322.6,457.2 L323.7,456.6 L324.7,455.9 L325.7,455.3 L326.7,454.6 L327.7,454.0 L328.8,453.4 L329.8,452.7 L330.8,452.1 L331.8,451.5 L332.9,450.9 L333.9,450.3 L334.9,449.6 L335.9,449.0 L337.0,448.4 L338.0,447.8 L339.0,447.2 L340.0,446.6 L341.1,446.0 L342.1,445.5 L343.1,444.9 L344.2,444.3 L345.2,443.7 L346.2,443.2 L347.2,442.6 L348.3,442.0 L349.3,441.5 L350.3,440.9 L351.4,440.4 L352.4,439.8 L353.4,439.3 L354.5,438.8 L355.5,438.2 L356.5,437.7 L357.6,437.2 L358.6,436.7 L359.7,436.2 L360.7,435.7 L361.7,435.2 L362.8,434.7 L363.8,434.2 L364.8,433.7 L365.9,433.2 L366.9,432.7 L368.0,432.3 L369.0,431.8 L370.0,431.4 L371.1,430.9 L372.1,430.5 L373.2,430.0 L374.2,429.6 L375.2,429.1 L376.3,428.7 L377.3,428.3 L378.4,427.8 L379.4,427.4 L380.4,427.0 L381.5,426.6 L382.5,426.2 L383.6,425.7 L384.6,425.3 L385.7,424.9 L386.7,424.5 L387.7,424.1 L388.8,423.7 L389.8,423.3 L390.9,422.9 L391.9,422.5 L393.0,422.0 L394.0,421.6 L395.1,421.2 L396.1,420.8 L397.2,420.4 L398.2,420.0 L399.2,419.6 L400.3,419.2 L401.3,418.7 L402.4,418.3 L403.4,417.9 L404.5,417.5 L405.5,417.1 L406.6,416.7 L407.6,416.2 L408.7,415.8 L409.7,415.4 L410.8,415.0 L411.8,414.6 L412.9,414.1 L413.9,413.7 L415.0,413.3 L416.0,412.9 L417.1,412.5 L418.1,412.0 L419.2,411.6 L420.2,411.2 L421.3,410.8 L422.3,410.4 L423.4,409.9 L424.4,409.5 L425.5,409.1 L426.5,408.7 L427.6,408.3 L428.6,407.9 L429.7,407.5 L430.7,407.1 L431.8,406.6 L432.8,406.2 L433.9,405.8 L434.9,405.4 L436.0,405.0 L437.0,404.6 L438.1,404.2 L439.1,403.8 L440.2,403.4 L441.2,403.0 L442.3,402.6 L443.3,402.2 L444.4,401.9 L445.5,401.5 L446.5,401.1 L447.6,400.7 L448.6,400.3 L449.7,399.9 L450.7,399.6 L451.8,399.2 L452.8,398.8 L453.9,398.5 L455.0,398.1 L456.0,397.7 L457.1,397.4 L458.1,397.0 L459.2,396.7 L460.2,396.3 L461.3,396.0 L462.3,395.6 L463.4,395.3 L464.5,395.0 L465.5,394.6 L466.6,394.3 L467.6,394.0 L468.7,393.6 L469.7,393.3 L470.8,393.0 L471.9,392.7 L472.9,392.4 L474.0,392.1 L475.0,391.8 L476.1,391.5 L477.2,391.2 L478.2,390.9 L479.3,390.6 L480.3,390.4 L481.4,390.1 L482.4,389.8 L483.5,389.6 L484.6,389.3 L485.6,389.0 L486.7,388.8 L487.7,388.5 L488.8,388.3 L489.9,388.1 L490.9,387.8 L492.0,387.6 L493.1,387.4 L494.1,387.1 L495.2,386.9 L496.2,386.7 L497.3,386.5 L498.4,386.3 L499.4,386.1 L500.5,385.8 L501.5,385.6 L502.6,385.4 L503.7,385.2 L504.7,385.0 L505.8,384.8 L506.9,384.6 L507.9,384.4 L509.0,384.2 L510.0,384.1 L511.1,383.9 L512.2,383.7 L513.2,383.5 L514.3,383.3 L515.4,383.1 L516.4,382.9 L517.5,382.7 L518.6,382.6 L519.6,382.4 L520.7,382.2 L521.8,382.0 L522.8,381.8 L523.9,381.6 L524.9,381.5 L526.0,381.3 L527.1,381.1 L528.1,380.9 L529.2,380.7 L530.3,380.5 L531.3,380.3 L532.4,380.1 L533.5,379.9 L534.5,379.8 L535.6,379.6 L536.7,379.4 L537.7,379.2 L538.8,379.0 L539.9,378.8 L540.9,378.6 L542.0,378.4 L543.1,378.1 L544.1,377.9 L545.2,377.7 L546.3,377.5 L547.3,377.3 L548.4,377.1 L549.5,376.8 L550.6,376.6 L551.6,376.4 L552.7,376.1 L553.8,375.9 L554.8,375.7 L555.9,375.4 L557.0,375.2 L558.0,374.9 L559.1,374.7 L560.2,374.4 L561.2,374.1 L562.3,373.9 L563.4,373.6 L564.4,373.3 L565.5,373.0 L566.6,372.7 L567.7,372.4 L568.7,372.1 L569.8,371.8" stroke="#f0f" stroke-width="1.80"/>
<path d="M107.7,791.6 L107.7,789.4 L107.7,787.3 L107.7,785.1 L107.7,783.0 L107.7,780.8 L107.7,778.7 L107.7,776.6 L107.8,774.4 L107.8,772.3 L107.8,770.2 L107.8,768.0 L107.9,765.9 L107.9,763.8 L108.0,761.7 L108.0,759.5 L108.1,757.4 L108.1,755.3 L108.2,753.2 L108.3,751.1 L108.4,749.0 L108.5,746.9 L108.6,744.8 L108.7,742.7 L108.8,740.6 L108.9,738.5 L109.0,736.4 L109.2,734.4 L109.3,732.3 L109.5,730.2 L109.6,728.1 L109.8,726.1 L110.0,724.0 L110.2,721.9 L110.4,719.9 L110.6,717.8 L110.8,715.8 L111.0,713.7 L111.3,711.7 L111.5,709.6 L111.8,707.6 L112.1,705.5 L112.3,703.5 L112.6,701.5 L112.9,699.5 L113.2,697.4 L113.6,695.4 L113.9,693.4 L114.2,691.4 L114.6,689.4 L115.0,687.4 L115.3,685.4 L115.7,683.4 L116.1,681.4 L116.5,679.4 L116.9,677.5 L117.3,675.5 L117.7,673.5 L118.2,671.5 L118.6,669.6 L119.1,667.6 L119.5,665.7 L120.0,663.7 L120.5,661.8 L120.9,659.8 L121.4,657.9 L121.9,656.0 L122.4,654.0 L123.0,652.1 L123.5,650.2 L124.0,648.3 L124.5,646.4 L125.1,644.5 L125.6,642.6 L126.2,640.7 L126.7,638.8 L127.3,636.9 L127.8,635.0 L128.4,633.1 L129.0,631.3 L129.5,629.4 L130.1,627.5 L130.7,625.7 L131.3,623.8 L131.9,622.0 L132.5,620.2 L133.1,618.3 L133.7,616.5 L134.3,614.7 L134.9,612.9 L135.5,611.0 L136.1,609.2 L136.7,607.4 L137.3,605.6 L137.9,603.8 L138.5,602.1 L139.1,600.3 L139.7,598.5 L140.3,596.7 L141.0,595.0 L141.6,593.2 L142.2,591.5 L142.8,589.7 L143.4,588.0 L144.1,586.3 L144.7,584.5 L145.3,582.8 L146.0,581.1 L146.6,579.4 L147.3,577.7 L147.9,576.0 L148.6,574.3 L149.3,572.6 L149.9,570.9 L150.6,569.2 L151.3,567.6 L152.0,565.9 L152.7,564.3 L153.4,562.6 L154.1,561.0 L154.8,559.3 L155.6,557.7 L156.3,556.1 L157.1,554.5 L157.8,552.9 L158.6,551.3 L159.3,549.7 L160.1,548.1 L160.9,546.5 L161.7,544.9 L162.5,543.4 L163.3,541.8 L164.1,540.3 L164.9,538.8 L165.7,537.2 L166.6,535.7 L167.4,534.2 L168.2,532.7 L169.1,531.2 L169.9,529.8 L170.8,528.3 L171.7,526.9 L172.5,525.4 L173.4,524.0 L174.3,522.6 L175.2,521.2 L176.1,519.8 L177.0,518.4 L177.9,517.0 L178.8,515.7 L179.7,514.3 L180.6,513.0 L181.6,511.7 L182.5,510.4 L183.4,509.1 L184.4,507.8 L185.3,506.6 L186.3,505.3 L187.2,504.1 L188.2,502.9 L189.2,501.7 L190.1,500.5 L191.1,499.4 L192.1,498.2 L193.1,497.1 L194.1,495.9 L195.0,494.8 L196.0,493.8 L197.0,492.7 L198.0,491.6 L199.0,490.6 L200.1,489.5 L201.1,488.5 L202.1,487.5 L203.1,486.5 L204.1,485.5 L205.1,484.6 L206.2,483.6 L207.2,482.6 L208.2,481.7 L209.3,480.8 L210.3,479.9 L211.4,479.0 L212.4,478.1 L213.4,477.2 L214.5,476.3 L215.5,475.4 L216.6,474.5 L217.6,473.7 L218.7,472.8 L219.8,472.0 L220.8,471.1 L221.9,470.3 L223.0,469.5 L224.0,468.6 L225.1,467.8 L226.2,467.0 L227.2,466.2 L228.3,465.4 L229.4,464.6 L230.4,463.8 L231.5,463.0 L232.6,462.2 L233.7,461.4 L234.7,460.6 L235.8,459.8 L236.9,459.1 L238.0,458.3 L239.1,457.6 L240.1,456.8 L241.2,456.1 L242.3,455.4 L243.4,454.6 L244.5,453.9 L245.6,453.2 L246.7,452.5 L247.7,451.9 L248.8,451.2 L249.9,450.5 L251.0,449.9 L252.1,449.2 L253.2,448.6 L254.3,447.9 L255.4,447.3 L256.5,446.7 L257.6,446.0 L258.7,445.4 L259.8,444.8 L260.9,444.2 L262.0,443.6 L263.1,442.9 L264.2,442.3 L265.3,441.7 L266.4,441.1 L267.5,440.5 L268.6,439.9 L269.7,439.4 L270.8,438.8 L271.9,438.2 L273.0,437.6 L274.1,437.0 L275.2,436.4 L276.3,435.9 L277.5,435.3 L278.6,434.7 L279.7,434.1 L280.8,433.6 L281.9,433.0 L283.0,432.4 L284.1,431.9 L285.3,431.3 L286.4,430.7 L287.5,430.2 L288.6,429.6 L289.7,429.1 L290.8,428.5 L292.0,428.0 L293.1,427.4 L294.2,426.9 L295.3,426.3 L296.4,425.8 L297.6,425.3 L298.7,424.7 L299.8,424.2 L300.9,423.6 L302.1,423.1 L303.2,422.6 L304.3,422.0 L305.4,421.5 L306.6,421.0 L307.7,420.5 L308.8,419.9 L309.9,419.4 L311.1,418.9 L312.2,418.4 L313.3,417.9 L314.5,417.4 L315.6,416.8 L316.7,416.3 L317.8,415.8 L319.0,415.3 L320.1,414.8 L321.2,414.3 L322.4,413.8 L323.5,413.3 L324.6,412.8 L325.8,412.3 L326.9,411.8 L328.0,411.3 L329.2,410.8 L330.3,410.3 L331.4,409.8 L332.6,409.4 L333.7,408.9 L334.9,408.4 L336.0,407.9 L337.1,407.4 L338.3,406.9 L339.4,406.5 L340.5,406.0 L341.7,405.5 L342.8,405.1 L344.0,404.6 L345.1,404.1 L346.2,403.6 L347.4,403.2 L348.5,402.7 L349.7,402.3 L350.8,401.8 L351.9,401.3 L353.1,400.9 L354.2,400.4 L355.4,400.0 L356.5,399.5 L357.6,399.1 L358.8,398.6 L359.9,398.2 L361.1,397.7 L362.2,397.3 L363.3,396.9 L364.5,396.4 L365.6,396.0 L366.8,395.6 L367.9,395.1 L369.0,394.7 L370.2,394.3 L371.3,393.8 L372.5,393.4 L373.6,393.0 L374.8,392.6 L375.9,392.1 L377.0,391.7 L378.2,391.3 L379.3,390.9 L380.5,390.5 L381.6,390.0 L382.7,389.6 L383.9,389.2 L385.0,388.8 L386.2,388.4 L387.3,388.0 L388.5,387.6 L389.6,387.2 L390.7,386.8 L391.9,386.4 L393.0,386.0 L394.2,385.6 L395.3,385.2 L396.4,384.8 L397.6,384.4 L398.7,384.0 L399.9,383.6 L401.0,383.3 L402.2,382.9 L403.3,382.5 L404.4,382.1 L405.6,381.7 L406.7,381.4 L407.9,381.0 L409.0,380.6 L410.1,380.2 L411.3,379.9 L412.4,379.5 L413.6,379.1 L414.7,378.7 L415.9,378.4 L417.0,378.0 L418.1,377.6 L419.3,377.3 L420.4,376.9 L421.6,376.6 L422.7,376.2 L423.8,375.9 L425.0,375.5 L426.1,375.1 L427.3,374.8 L428.4,374.4 L429.6,374.1 L430.7,373.7 L431.8,373.4 L433.0,373.1 L434.1,372.7 L435.3,372.4 L436.4,372.0 L437.5,371.7 L438.7,371.4 L439.8,371.0 L441.0,370.7 L442.1,370.3 L443.3,370.0 L444.4,369.7 L445.5,369.4 L446.7,369.0 L447.8,368.7 L449.0,368.4 L450.1,368.0 L451.3,367.7 L452.4,367.4 L453.6,367.1 L454.7,366.8 L455.8,366.4 L457.0,366.1 L458.1,365.8 L459.3,365.5 L460.4,365.2 L461.6,364.9 L462.7,364.6 L463.8,364.3 L465.0,364.0 L466.1,363.6 L467.3,363.3 L468.4,363.0 L469.6,362.7 L470.7,362.4 L471.9,362.1 L473.0,361.8 L474.1,361.5 L475.3,361.2 L476.4,360.9 L477.6,360.7 L478.7,360.4 L479.9,360.1 L481.0,359.8 L482.2,359.5 L483.3,359.2 L484.5,358.9 L485.6,358.6 L486.8,358.3 L487.9,358.1 L489.1,357.8 L490.2,357.5 L491.3,357.2 L492.5,356.9 L493.6,356.7 L494.8,356.4 L495.9,356.1 L497.1,355.8 L498.2,355.6 L499.4,355.3 L500.5,355.0 L501.7,354.7 L502.8,354.5 L504.0,354.2 L505.1,353.9 L506.3,353.7 L507.4,353.4 L508.6,353.1 L509.7,352.9 L510.9,352.6 L512.0,352.4 L513.2,352.1 L514.3,351.8 L515.5,351.6 L516.6,351.3 L517.8,351.1 L518.9,350.8 L520.1,350.6 L521.2,350.3 L522.4,350.0 L523.5,349.8 L524.7,349.5 L525.8,349.3 L527.0,349.0 L528.1,348.8 L529.3,348.6 L530.5,348.3 L531.6,348.1 L532.8,347.8 L533.9,347.6 L535.1,347.3 L536.2,347.1 L537.4,346.9 L538.5,346.6 L539.7,346.4 L540.8,346.1 L542.0,345.9 L543.2,345.7 L544.3,345.4 L545.5,345.2 L546.6,345.0 L547.8,344.7 L548.9,344.5 L550.1,344.3 L551.2,344.0 L552.4,343.8 L553.6,343.6 L554.7,343.4 L555.9,343.1 L557.0,342.9 L558.2,342.7 L559.4,342.5 L560.5,342.2 L561.7,342.0 L562.8,341.8 L564.0,341.6 L565.2,341.3 L566.3,341.1 L567.5,340.9 L568.6,340.7 L569.8,340.5" stroke="#0f0" stroke-width="1.60"/>
</g>
<rect x="97.0" y="318.8" width="472.8" height="472.8" fill="none" stroke="#000" stroke-width="2.15"/>
<path d="M78.97,791.17 L80.48,787.98 L80.48,797.38" fill="none" stroke="#000" stroke-width="1.35" stroke-linecap="round" stroke-linejoin="round"/>
<path d="M69.08,711.28 L70.58,708.08 L70.58,717.49 M80.14,707.71 C78.04,707.71 76.86,709.78 76.86,712.78 C76.86,715.79 78.04,717.86 80.14,717.86 C82.24,717.86 83.42,715.79 83.42,712.78 C83.42,709.78 82.24,707.71 80.14,707.71 Z" fill="none" stroke="#000" stroke-width="1.35" stroke-linecap="round" stroke-linejoin="round"/>
<path d="M69.08,632.48 L70.58,629.28 L70.58,638.69 M80.14,628.91 C78.04,628.91 76.86,630.98 76.86,633.98 C76.86,636.99 78.04,639.06 80.14,639.06 C82.24,639.06 83.42,636.99 83.42,633.98 C83.42,630.98 82.24,628.91 80.14,628.91 Z" fill="none" stroke="#000" stroke-width="1.35" stroke-linecap="round" stroke-linejoin="round"/>
<path d="M88.88,624.87 C88.88,623.30 89.80,622.60 91.11,622.60 C92.49,622.60 93.49,623.30 93.49,624.96 C93.49,626.79 92.11,627.67 90.57,628.71 C89.42,629.58 88.65,630.28 88.65,631.33 L93.64,631.33" fill="none" stroke="#000" stroke-width="1.30" stroke-linecap="round" stroke-linejoin="round"/>
<path d="M69.08,553.68 L70.58,550.48 L70.58,559.89 M80.14,550.11 C78.04,550.11 76.86,552.18 76.86,555.18 C76.86,558.19 78.04,560.26 80.14,560.26 C82.24,560.26 83.42,558.19 83.42,555.18 C83.42,552.18 82.24,550.11 80.14,550.11 Z" fill="none" stroke="#000" stroke-width="1.35" stroke-linecap="round" stroke-linejoin="round"/>
<path d="M88.88,545.55 C89.26,544.33 90.11,543.80 91.11,543.80 C92.49,543.80 93.41,544.50 93.41,545.90 C93.41,547.29 92.49,547.91 90.95,547.91 C92.68,547.91 93.64,548.87 93.64,550.26 C93.64,551.83 92.57,552.53 91.11,552.53 C89.96,552.53 89.03,551.92 88.65,550.61" fill="none" stroke="#000" stroke-width="1.30" stroke-linecap="round" stroke-linejoin="round"/>
<path d="M69.08,474.88 L70.58,471.68 L70.58,481.09 M80.14,471.31 C78.04,471.31 76.86,473.38 76.86,476.38 C76.86,479.39 78.04,481.46 80.14,481.46 C82.24,481.46 83.42,479.39 83.42,476.38 C83.42,473.38 82.24,471.31 80.14,471.31 Z" fill="none" stroke="#000" stroke-width="1.35" stroke-linecap="round" stroke-linejoin="round"/>
<path d="M92.51,473.73 L92.51,465.00 L88.65,471.11 L93.74,471.11" fill="none" stroke="#000" stroke-width="1.30" stroke-linecap="round" stroke-linejoin="round"/>
<path d="M69.08,396.08 L70.58,392.88 L70.58,402.29 M80.14,392.51 C78.04,392.51 76.86,394.58 76.86,397.58 C76.86,400.59 78.04,402.66 80.14,402.66 C82.24,402.66 83.42,400.59 83.42,397.58 C83.42,394.58 82.24,392.51 80.14,392.51 Z" fill="none" stroke="#000" stroke-width="1.35" stroke-linecap="round" stroke-linejoin="round"/>
<path d="M93.26,386.20 L89.42,386.20 L89.03,390.04 C89.80,389.43 90.49,389.17 91.26,389.17 C92.72,389.17 93.64,390.31 93.64,392.05 C93.64,393.88 92.68,394.93 91.11,394.93 C89.96,394.93 89.03,394.23 88.65,393.01" fill="none" stroke="#000" stroke-width="1.30" stroke-linecap="round" stroke-linejoin="round"/>
<path d="M69.08,317.28 L70.58,314.08 L70.58,323.49 M80.14,313.71 C78.04,313.71 76.86,315.78 76.86,318.78 C76.86,321.79 78.04,323.86 80.14,323.86 C82.24,323.86 83.42,321.79 83.42,318.78 C83.42,315.78 82.24,313.71 80.14,313.71 Z" fill="none" stroke="#000" stroke-width="1.35" stroke-linecap="round" stroke-linejoin="round"/>
<path d="M93.26,308.63 C92.87,307.84 92.11,307.40 91.26,307.40 C89.61,307.40 88.65,309.32 88.65,312.20 C88.65,314.65 89.61,316.13 91.26,316.13 C92.72,316.13 93.64,315.08 93.64,313.42 C93.64,311.77 92.72,310.72 91.26,310.72 C89.80,310.72 88.65,311.77 88.65,313.16" fill="none" stroke="#000" stroke-width="1.30" stroke-linecap="round" stroke-linejoin="round"/>
<path d="M97.20,798.99 C95.10,798.99 93.92,801.06 93.92,804.07 C93.92,807.08 95.10,809.15 97.20,809.15 C99.30,809.15 100.48,807.08 100.48,804.07 C100.48,801.06 99.30,798.99 97.20,798.99 Z" fill="none" stroke="#000" stroke-width="1.35" stroke-linecap="round" stroke-linejoin="round"/>
<path d="M184.37,801.81 C184.37,800.12 185.54,799.37 187.19,799.37 C188.94,799.37 190.21,800.12 190.21,801.91 C190.21,803.88 188.46,804.82 186.51,805.95 C185.05,806.89 184.08,807.64 184.08,808.77 L190.40,808.77 M196.56,798.99 C194.46,798.99 193.28,801.06 193.28,804.07 C193.28,807.08 194.46,809.15 196.56,809.15 C198.67,809.15 199.84,807.08 199.84,804.07 C199.84,801.06 198.67,798.99 196.56,798.99 Z" fill="none" stroke="#000" stroke-width="1.35" stroke-linecap="round" stroke-linejoin="round"/>
<path d="M283.52,808.77 L283.52,799.37 L278.64,805.95 L285.08,805.95 M291.12,798.99 C289.02,798.99 287.84,801.06 287.84,804.07 C287.84,807.08 289.02,809.15 291.12,809.15 C293.23,809.15 294.40,807.08 294.40,804.07 C294.40,801.06 293.23,798.99 291.12,798.99 Z" fill="none" stroke="#000" stroke-width="1.35" stroke-linecap="round" stroke-linejoin="round"/>
<path d="M379.03,800.68 C378.55,799.84 377.58,799.37 376.51,799.37 C374.42,799.37 373.20,801.44 373.20,804.54 C373.20,807.17 374.42,808.77 376.51,808.77 C378.35,808.77 379.52,807.64 379.52,805.86 C379.52,804.07 378.35,802.94 376.51,802.94 C374.66,802.94 373.20,804.07 373.20,805.57 M385.68,798.99 C383.58,798.99 382.40,801.06 382.40,804.07 C382.40,807.08 383.58,809.15 385.68,809.15 C387.79,809.15 388.96,807.08 388.96,804.07 C388.96,801.06 387.79,798.99 385.68,798.99 Z" fill="none" stroke="#000" stroke-width="1.35" stroke-linecap="round" stroke-linejoin="round"/>
<path d="M470.92,803.69 C469.22,803.69 468.25,802.94 468.25,801.53 C468.25,800.12 469.22,799.37 470.92,799.37 C472.62,799.37 473.59,800.12 473.59,801.53 C473.59,802.94 472.62,803.69 470.92,803.69 C468.93,803.69 467.76,804.63 467.76,806.23 C467.76,807.83 468.93,808.77 470.92,808.77 C472.91,808.77 474.08,807.83 474.08,806.23 C474.08,804.63 472.91,803.69 470.92,803.69 Z M480.24,798.99 C478.14,798.99 476.96,801.06 476.96,804.07 C476.96,807.08 478.14,809.15 480.24,809.15 C482.35,809.15 483.52,807.08 483.52,804.07 C483.52,801.06 482.35,798.99 480.24,798.99 Z" fill="none" stroke="#000" stroke-width="1.35" stroke-linecap="round" stroke-linejoin="round"/>
<path d="M558.43,802.57 L559.93,799.37 L559.93,808.77 M569.49,798.99 C567.39,798.99 566.21,801.06 566.21,804.07 C566.21,807.08 567.39,809.15 569.49,809.15 C571.60,809.15 572.77,807.08 572.77,804.07 C572.77,801.06 571.60,798.99 569.49,798.99 Z M578.70,798.99 C576.59,798.99 575.42,801.06 575.42,804.07 C575.42,807.08 576.59,809.15 578.70,809.15 C580.80,809.15 581.97,807.08 581.97,804.07 C581.97,801.06 580.80,798.99 578.70,798.99 Z" fill="none" stroke="#000" stroke-width="1.35" stroke-linecap="round" stroke-linejoin="round"/>
<path d="M487.81,828.22 L478.03,828.22 L478.03,845.72 L487.81,845.72 M478.03,836.62 L485.27,836.62 M506.39,824.36 C503.29,829.09 502.12,833.47 502.12,837.49 C502.12,841.35 503.29,845.72 506.39,850.62 M513.33,845.72 L513.33,828.22 L520.40,844.85 L527.48,828.22 L527.48,845.72 M532.23,838.72 L542.42,838.72 C542.42,835.22 540.42,833.47 537.32,833.47 C534.05,833.47 532.23,835.74 532.23,839.59 C532.23,843.62 534.05,845.72 537.51,845.72 C539.51,845.72 541.15,845.20 542.24,843.97 M545.02,828.22 L551.22,845.72 L557.41,828.22 M561.23,824.36 C564.33,829.09 565.50,833.47 565.50,837.49 C565.50,841.35 564.33,845.72 561.23,850.62" fill="none" stroke="#000" stroke-width="1.45" stroke-linecap="round" stroke-linejoin="round"/>
<path d="M334.78,363.98 C335.28,363.02 336.08,363.02 336.28,364.56 L335.78,372.61 C337.78,370.88 340.53,367.62 341.53,363.02" fill="none" stroke="#0f0" stroke-width="1.35" stroke-linecap="round" stroke-linejoin="round"/>
<ellipse cx="345.0" cy="372.6" rx="2.25" ry="3.2" fill="#0f0"/>
<path d="M354.68,366.77 L362.95,366.77 M358.81,372.10 L358.81,361.44 M366.88,372.61 L371.20,359.92 L375.54,372.61 M368.34,368.29 L374.07,368.29 M378.38,363.73 L378.38,372.61 M378.38,367.28 C378.93,365.00 380.03,363.73 381.80,363.73 M392.96,357.13 C390.86,360.56 390.07,363.73 390.07,366.65 C390.07,369.44 390.86,372.61 392.96,376.16 M404.48,363.22 C403.95,361.19 402.35,359.92 400.43,359.92 C397.57,359.92 395.98,362.46 395.98,366.27 C395.98,370.07 397.57,372.61 400.43,372.61 C402.35,372.61 403.95,371.34 404.48,369.31 M417.48,363.22 C416.95,361.19 415.35,359.92 413.43,359.92 C410.57,359.92 408.98,362.46 408.98,366.27 C408.98,370.07 410.57,372.61 413.43,372.61 C415.35,372.61 416.95,371.34 417.48,369.31 M419.68,357.13 C421.77,360.56 422.56,363.73 422.56,366.65 C422.56,369.44 421.77,372.61 419.68,376.16" fill="none" stroke="#0f0" stroke-width="1.35" stroke-linecap="round" stroke-linejoin="round"/>
<path d="M334.78,511.22 C335.17,510.48 335.97,510.48 336.13,511.66 L335.73,517.87 C337.56,516.54 340.35,514.03 341.35,510.48" fill="none" stroke="#0f0" stroke-width="1.35" stroke-linecap="round" stroke-linejoin="round"/><path d="M334.5,507.2H339.3" fill="none" stroke="#0f0" stroke-width="1.35" stroke-linecap="round" stroke-linejoin="round"/>
<ellipse cx="343.0" cy="518.0" rx="2.25" ry="3.2" fill="#0f0"/>
<path d="M352.38,512.04 L360.65,512.04 M356.51,517.37 L356.51,506.71 M364.18,517.87 L368.50,505.19 L372.84,517.87 M365.64,513.56 L371.37,513.56 M376.07,508.99 L376.07,517.87 M376.07,512.55 C376.63,510.26 377.73,508.99 379.50,508.99 M390.56,502.40 C388.46,505.82 387.68,508.99 387.68,511.91 C387.68,514.70 388.46,517.87 390.56,521.43 M402.18,508.49 C401.65,506.46 400.05,505.19 398.13,505.19 C395.27,505.19 393.68,507.73 393.68,511.53 C393.68,515.34 395.27,517.87 398.13,517.87 C400.05,517.87 401.65,516.61 402.18,514.58 M415.18,508.49 C414.65,506.46 413.05,505.19 411.13,505.19 C408.27,505.19 406.68,507.73 406.68,511.53 C406.68,515.34 408.27,517.87 411.13,517.87 C413.05,517.87 414.65,516.61 415.18,514.58 M417.28,502.40 C419.37,505.82 420.16,508.99 420.16,511.91 C420.16,514.70 419.37,517.87 417.28,521.43" fill="none" stroke="#0f0" stroke-width="1.35" stroke-linecap="round" stroke-linejoin="round"/>
<path d="M467.28,366.71 C467.78,365.76 468.58,365.76 468.78,367.29 L468.28,375.34 C470.28,373.62 473.03,370.36 474.03,365.76" fill="none" stroke="#f0f" stroke-width="1.35" stroke-linecap="round" stroke-linejoin="round"/>
<path d="M475.7,372.4L478.3,377.1M475.7,377.1L478.3,372.4" fill="none" stroke="#f0f" stroke-width="1.20" stroke-linecap="round" stroke-linejoin="round"/>
<path d="M487.18,369.51 L495.45,369.51 M491.31,374.83 L491.31,364.18 M498.88,375.34 L503.20,362.66 L507.54,375.34 M500.34,371.03 L506.07,371.03 M509.68,366.46 L509.68,375.34 M509.68,370.01 C510.23,367.73 511.33,366.46 513.10,366.46 M524.56,359.87 C522.46,363.29 521.67,366.46 521.67,369.38 C521.67,372.17 522.46,375.34 524.56,378.89 M527.38,375.34 L527.38,362.66 L534.88,375.34 L534.88,362.66 M546.58,365.95 C546.05,363.93 544.45,362.66 542.53,362.66 C539.67,362.66 538.07,365.19 538.07,369.00 C538.07,372.80 539.67,375.34 542.53,375.34 C544.45,375.34 546.05,374.07 546.58,372.04 M551.88,359.87 C553.97,363.29 554.76,366.46 554.76,369.38 C554.76,372.17 553.97,375.34 551.88,378.89" fill="none" stroke="#f0f" stroke-width="1.35" stroke-linecap="round" stroke-linejoin="round"/>
<path d="M467.07,449.24 C467.47,448.50 468.27,448.50 468.43,449.69 L468.03,455.90 C469.86,454.57 472.65,452.06 473.64,448.50" fill="none" stroke="#f0f" stroke-width="1.35" stroke-linecap="round" stroke-linejoin="round"/><path d="M466.8,445.3H471.6" fill="none" stroke="#f0f" stroke-width="1.35" stroke-linecap="round" stroke-linejoin="round"/>
<path d="M473.6,454.2L476.2,458.9M473.6,458.9L476.2,454.2" fill="none" stroke="#f0f" stroke-width="1.20" stroke-linecap="round" stroke-linejoin="round"/>
<path d="M484.68,450.07 L492.95,450.07 M488.81,455.40 L488.81,444.74 M496.28,455.90 L500.61,443.22 L504.94,455.90 M497.74,451.59 L503.47,451.59 M507.48,447.02 L507.48,455.90 M507.48,450.58 C508.03,448.29 509.13,447.02 510.90,447.02 M522.36,440.43 C520.26,443.85 519.47,447.02 519.47,449.94 C519.47,452.73 520.26,455.90 522.36,459.45 M525.57,455.90 L525.57,443.22 L533.08,455.90 L533.08,443.22 M545.08,446.52 C544.55,444.49 542.95,443.22 541.03,443.22 C538.17,443.22 536.57,445.76 536.57,449.56 C536.57,453.37 538.17,455.90 541.03,455.90 C542.95,455.90 544.55,454.63 545.08,452.61 M549.57,440.43 C551.67,443.85 552.46,447.02 552.46,449.94 C552.46,452.73 551.67,455.90 549.57,459.45" fill="none" stroke="#f0f" stroke-width="1.35" stroke-linecap="round" stroke-linejoin="round"/>
<path d="M460.5,450.7L451.3,428.3 M449.9,438.5L451.3,428.3L456.5,432.2" fill="none" stroke="#f0f" stroke-width="1.40" stroke-linecap="round" stroke-linejoin="round"/>
<path d="M467.57,628.45 C468.07,627.49 468.88,627.49 469.07,629.02 L468.57,637.08 C470.57,635.35 473.32,632.09 474.32,627.49" fill="none" stroke="#f00" stroke-width="1.35" stroke-linecap="round" stroke-linejoin="round"/>
<ellipse cx="477.6" cy="637.2" rx="2.25" ry="3.2" fill="#f00"/>
<path d="M482.07,631.24 L490.35,631.24 M486.21,636.57 L486.21,625.91 M492.78,632.00 L500.05,632.00 C500.05,629.47 498.62,628.20 496.41,628.20 C494.07,628.20 492.78,629.85 492.78,632.64 C492.78,635.55 494.07,637.08 496.54,637.08 C497.97,637.08 499.14,636.70 499.92,635.81 M512.76,621.60 C510.66,625.03 509.88,628.20 509.88,631.11 C509.88,633.91 510.66,637.08 512.76,640.63 M523.44,624.39 L516.47,624.39 L516.47,637.08 L523.44,637.08 M516.47,630.48 L521.63,630.48 M534.01,626.93 C533.35,625.28 532.17,624.39 530.47,624.39 C528.51,624.39 527.00,625.41 527.00,627.56 C527.00,629.72 528.64,630.23 530.60,630.73 C532.89,631.37 534.33,632.00 534.33,633.91 C534.33,636.06 532.57,637.08 530.47,637.08 C528.64,637.08 527.20,636.06 526.67,634.29 M537.17,621.60 C539.27,625.03 540.06,628.20 540.06,631.11 C540.06,633.91 539.27,637.08 537.17,640.63" fill="none" stroke="#f00" stroke-width="1.35" stroke-linecap="round" stroke-linejoin="round"/>
<path d="M467.57,659.40 C467.97,658.66 468.77,658.66 468.93,659.84 L468.53,666.06 C470.36,664.73 473.15,662.21 474.14,658.66" fill="none" stroke="#f00" stroke-width="1.35" stroke-linecap="round" stroke-linejoin="round"/><path d="M467.3,655.4H472.1" fill="none" stroke="#f00" stroke-width="1.35" stroke-linecap="round" stroke-linejoin="round"/>
<ellipse cx="476.0" cy="666.4" rx="2.25" ry="3.2" fill="#f00"/>
<path d="M480.57,660.22 L488.85,660.22 M484.71,665.55 L484.71,654.89 M491.98,660.98 L499.25,660.98 C499.25,658.45 497.82,657.18 495.61,657.18 C493.27,657.18 491.98,658.83 491.98,661.62 C491.98,664.53 493.27,666.06 495.74,666.06 C497.17,666.06 498.34,665.68 499.12,664.79 M509.76,650.58 C507.66,654.01 506.88,657.18 506.88,660.10 C506.88,662.89 507.66,666.06 509.76,669.61 M521.14,653.37 L514.17,653.37 L514.17,666.06 L521.14,666.06 M514.17,659.46 L519.33,659.46 M531.51,655.91 C530.85,654.26 529.67,653.37 527.97,653.37 C526.01,653.37 524.50,654.39 524.50,656.54 C524.50,658.70 526.14,659.21 528.10,659.71 C530.39,660.35 531.83,660.98 531.83,662.89 C531.83,665.04 530.07,666.06 527.97,666.06 C526.14,666.06 524.70,665.04 524.17,663.27 M534.88,650.58 C536.97,654.01 537.76,657.18 537.76,660.10 C537.76,662.89 536.97,666.06 534.88,669.61" fill="none" stroke="#f00" stroke-width="1.35" stroke-linecap="round" stroke-linejoin="round"/>
<path d="M467.57,686.23 C468.07,685.27 468.88,685.27 469.07,686.80 L468.57,694.85 C470.57,693.13 473.32,689.87 474.32,685.27" fill="none" stroke="#f00" stroke-width="1.35" stroke-linecap="round" stroke-linejoin="round"/>
<path d="M475.9,693.2L478.5,697.9M475.9,697.9L478.5,693.2" fill="none" stroke="#f00" stroke-width="1.20" stroke-linecap="round" stroke-linejoin="round"/>
<path d="M481.28,689.02 L489.55,689.02 M485.41,694.35 L485.41,683.69 M492.78,689.78 L500.05,689.78 C500.05,687.24 498.62,685.98 496.41,685.98 C494.07,685.98 492.78,687.62 492.78,690.42 C492.78,693.33 494.07,694.85 496.54,694.85 C497.97,694.85 499.14,694.47 499.92,693.59 M513.46,679.38 C511.36,682.80 510.57,685.98 510.57,688.89 C510.57,691.68 511.36,694.85 513.46,698.41 M524.24,682.17 L517.27,682.17 L517.27,694.85 L524.24,694.85 M517.27,688.26 L522.43,688.26 M534.51,684.71 C533.85,683.06 532.67,682.17 530.97,682.17 C529.01,682.17 527.50,683.19 527.50,685.34 C527.50,687.50 529.14,688.01 531.10,688.51 C533.39,689.15 534.83,689.78 534.83,691.68 C534.83,693.84 533.07,694.85 530.97,694.85 C529.14,694.85 527.70,693.84 527.17,692.06 M537.88,679.38 C539.97,682.80 540.76,685.98 540.76,688.89 C540.76,691.68 539.97,694.85 537.88,698.41" fill="none" stroke="#f00" stroke-width="1.35" stroke-linecap="round" stroke-linejoin="round"/>
<path d="M467.57,723.56 C467.97,722.82 468.77,722.82 468.93,724.00 L468.53,730.21 C470.36,728.88 473.15,726.37 474.14,722.82" fill="none" stroke="#f00" stroke-width="1.35" stroke-linecap="round" stroke-linejoin="round"/><path d="M467.3,719.6H472.1" fill="none" stroke="#f00" stroke-width="1.35" stroke-linecap="round" stroke-linejoin="round"/>
<path d="M474.9,728.5L477.5,733.3M474.9,733.3L477.5,728.5" fill="none" stroke="#f00" stroke-width="1.20" stroke-linecap="round" stroke-linejoin="round"/>
<path d="M479.78,724.38 L488.05,724.38 M483.91,729.71 L483.91,719.05 M491.28,725.14 L498.55,725.14 C498.55,722.60 497.12,721.34 494.91,721.34 C492.57,721.34 491.28,722.98 491.28,725.78 C491.28,728.69 492.57,730.21 495.04,730.21 C496.47,730.21 497.64,729.83 498.42,728.95 M509.76,714.74 C507.66,718.16 506.88,721.34 506.88,724.25 C506.88,727.04 507.66,730.21 509.76,733.77 M521.14,717.53 L514.17,717.53 L514.17,730.21 L521.14,730.21 M514.17,723.62 L519.33,723.62 M531.51,720.07 C530.85,718.42 529.67,717.53 527.97,717.53 C526.01,717.53 524.50,718.54 524.50,720.70 C524.50,722.86 526.14,723.37 528.10,723.87 C530.39,724.51 531.83,725.14 531.83,727.04 C531.83,729.20 530.07,730.21 527.97,730.21 C526.14,730.21 524.70,729.20 524.17,727.42 M534.88,714.74 C536.97,718.16 537.76,721.34 537.76,724.25 C537.76,727.04 536.97,730.21 534.88,733.77" fill="none" stroke="#f00" stroke-width="1.35" stroke-linecap="round" stroke-linejoin="round"/>
</g>
<text transform="translate(42.6,268.3) rotate(-90) scale(0.860,1)" font-size="18.6" font-weight="normal" stroke="#000" stroke-width="0.30">σ</text>
<text transform="translate(42.6,254.4) rotate(-90) scale(0.600,1)" font-size="26.0" font-weight="normal" stroke="#000" stroke-width="0.00">(</text>
<text transform="translate(42.6,247.3) rotate(-90) scale(0.880,1)" font-size="17.0" font-weight="normal" stroke="#000" stroke-width="0.30">10</text>
<text transform="translate(29.9,230.2) rotate(-90) scale(0.900,1)" font-size="11.5" font-weight="bold" stroke="#000" stroke-width="0.30">−44</text>
<text transform="translate(42.6,211.2) rotate(-90) scale(0.880,1)" font-size="17.0" font-weight="normal" stroke="#000" stroke-width="0.30">cm</text>
<text transform="translate(32.6,191.3) rotate(-90) scale(1.050,1)" font-size="13.5" font-weight="normal" stroke="#000" stroke-width="0.30">2</text>
<text transform="translate(42.6,183.6) rotate(-90) scale(0.600,1)" font-size="26.0" font-weight="normal" stroke="#000" stroke-width="0.00">)</text>
</svg>
</body></html>
